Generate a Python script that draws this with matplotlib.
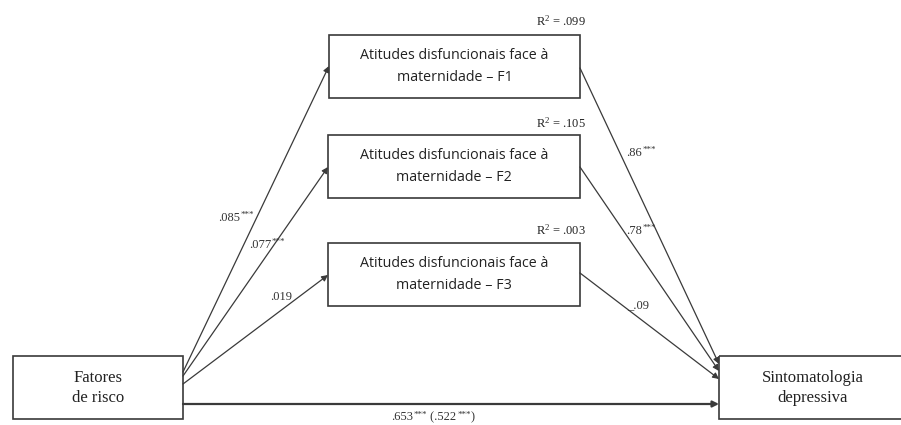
import matplotlib
matplotlib.use("Agg")
import matplotlib.pyplot as plt
from matplotlib.patches import Rectangle

# ---- data ----
predictor = "Fatores\nde risco"
outcome = "Sintomatologia\ndepressiva"
mediators = ["Atitudes disfuncionais face à\nmaternidade – F1",
             "Atitudes disfuncionais face à\nmaternidade – F2",
             "Atitudes disfuncionais face à\nmaternidade – F3"]
r_squared = [".099", ".105", ".003"]
a_coef = [".085", ".077", ".019"]
a_sig = ["***", "***", ""]
b_coef = [".86", ".78", "_.09"]
b_sig = ["***", "***", ""]
c_total = ".653"
c_total_sig = "***"
c_direct = ".522"
c_direct_sig = "***"

plt.rcParams['mathtext.fontset'] = 'custom'
plt.rcParams['mathtext.rm'] = 'Liberation Serif'
plt.rcParams['mathtext.it'] = 'Liberation Serif:italic'

fig = plt.figure(figsize=(9.01, 4.25), dpi=100)
ax = fig.add_axes([0, 0, 1, 1])
ax.set_xlim(0, 901)
ax.set_ylim(425, 0)
ax.axis('off')

serif = 'Liberation Serif'
sans = ['Open Sans', 'DejaVu Sans']
ecol = '#3a3a3a'
tcol = '#333333'

def box(x0, y0, x1, y1):
    ax.add_patch(Rectangle((x0, y0), x1 - x0, y1 - y0, fill=False,
                           ec=ecol, lw=1.2))

def arrow(p0, p1, lw=0.9):
    ax.annotate('', xy=p1, xytext=p0,
                arrowprops=dict(arrowstyle='-|>', color=ecol, lw=lw,
                                mutation_scale=9, shrinkA=0, shrinkB=0))

renderer = fig.canvas.get_renderer()

def sig_label(x, y, parts):
    """parts: list of (text, is_superscript); centred at x, baseline ~ y+3 px."""
    parts = [p for p in parts if p[0]]
    texts = []
    base = y + 3.5
    for s, sup in parts:
        fs = 6.5 if sup else 9
        t = ax.text(0, base - (4 if sup else 0), s, ha='left', va='baseline',
                    family=serif, fontsize=fs, color=tcol)
        texts.append(t)
    widths = [t.get_window_extent(renderer).width for t in texts]
    total = sum(widths) + 0.5 * (len(widths) - 1)
    cx = x - total / 2
    for t, w in zip(texts, widths):
        t.set_x(cx)
        cx += w + 0.5

# predictor and outcome boxes
box(13, 356, 183, 419)
ax.text(98, 388, predictor, ha='center', va='center', family=serif,
        fontsize=12, color='#222', linespacing=1.4)
box(719, 356, 905, 419)
ax.text(813, 388, outcome, ha='center', va='center', family=serif,
        fontsize=12, color='#222', linespacing=1.4)

# mediator boxes
mboxes = [(329, 35, 580, 98), (328, 135, 580, 198), (328, 243, 580, 306)]
left_in = [66, 167, 275]
right_out = [68, 167, 273]
src_y = [372, 376, 384]
dst_y = [364, 371, 379]
a_pos = [(236, 217), (267, 244), (281, 296)]
b_pos = [(641, 152), (641, 230), (638, 305)]
r2_pos = [(561, 21), (561, 123), (561, 230)]

for i, (x0, y0, x1, y1) in enumerate(mboxes):
    box(x0, y0, x1, y1)
    ax.text((x0 + x1) / 2, (y0 + y1) / 2, mediators[i], ha='center',
            va='center', family=sans, fontsize=10.3, color='#222',
            linespacing=1.65)
    arrow((183, src_y[i]), (x0, left_in[i]))
    arrow((x1, right_out[i]), (719, dst_y[i]))
    sig_label(*a_pos[i], [(a_coef[i], False), (a_sig[i], True)])
    sig_label(*b_pos[i], [(b_coef[i], False), (b_sig[i], True)])
    ax.text(*r2_pos[i], r'R$^{2}$ = ' + r_squared[i], ha='center',
            va='center', family=serif, fontsize=9, color='#222')

# direct path
arrow((183, 404), (719, 404), lw=1.6)
sig_label(433, 417, [(c_total, False), (c_total_sig, True),
                     (" (" + c_direct, False), (c_direct_sig, True),
                     (")", False)])

fig.savefig('out.png', dpi=100)
